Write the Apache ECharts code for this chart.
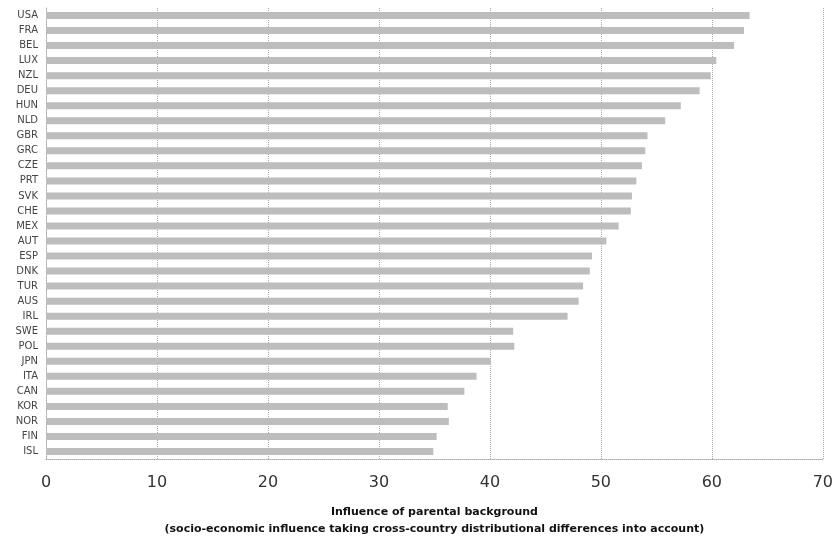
<!DOCTYPE html>
<html><head><meta charset="utf-8">
<script src="https://cdn.jsdelivr.net/npm/echarts@6/dist/echarts.min.js"></script>
<style>html,body{margin:0;padding:0;background:#fff}#c{width:836px;height:543px}</style>
</head><body><div id="c"></div>
<script>
const countries = ["USA","FRA","BEL","LUX","NZL","DEU","HUN","NLD","GBR","GRC","CZE","PRT","SVK","CHE","MEX","AUT","ESP","DNK","TUR","AUS","IRL","SWE","POL","JPN","ITA","CAN","KOR","NOR","FIN","ISL"];
const influence = [63.4,62.9,62.0,60.4,59.9,58.9,57.2,55.8,54.2,54.0,53.7,53.2,52.8,52.7,51.6,50.5,49.2,49.0,48.4,48.0,47.0,42.1,42.2,40.1,38.8,37.7,36.2,36.3,35.2,34.9];
const xTicks = [0,10,20,30,40,50,60,70];

const chart = echarts.init(document.getElementById('c'));
chart.setOption({
  animation: false,
  grid: {left: 46, right: 11, top: 8, bottom: 75},
  xAxis: {
    type: 'value', min: xTicks[0], max: xTicks[xTicks.length-1], interval: 10,
    axisLine: {show: true, lineStyle: {color: '#aaa', type: 'dotted', width: 1}},
    axisTick: {show: false},
    splitLine: {show: true, lineStyle: {color: '#aaa', type: 'dotted', width: 1}},
    axisLabel: {fontSize: 16, color: '#333', margin: 16, fontFamily: 'DejaVu Sans'},
    name: 'Influence of parental background\n(socio-economic influence taking cross-country distributional differences into account)',
    nameLocation: 'middle', nameGap: 45,
    nameTextStyle: {fontSize: 11, fontWeight: 'bold', color: '#111', lineHeight: 17, fontFamily: 'DejaVu Sans'}
  },
  yAxis: {
    type: 'category', data: countries, inverse: true,
    axisLine: {show: true, lineStyle: {color: '#aaa', type: 'dotted', width: 1}},
    axisTick: {show: false},
    axisLabel: {fontSize: 10, color: '#444', margin: 8, fontFamily: 'DejaVu Sans'}
  },
  series: [{
    type: 'bar', data: influence, barWidth: 7,
    itemStyle: {color: '#bdbdbd'}
  }]
});
</script></body></html>
